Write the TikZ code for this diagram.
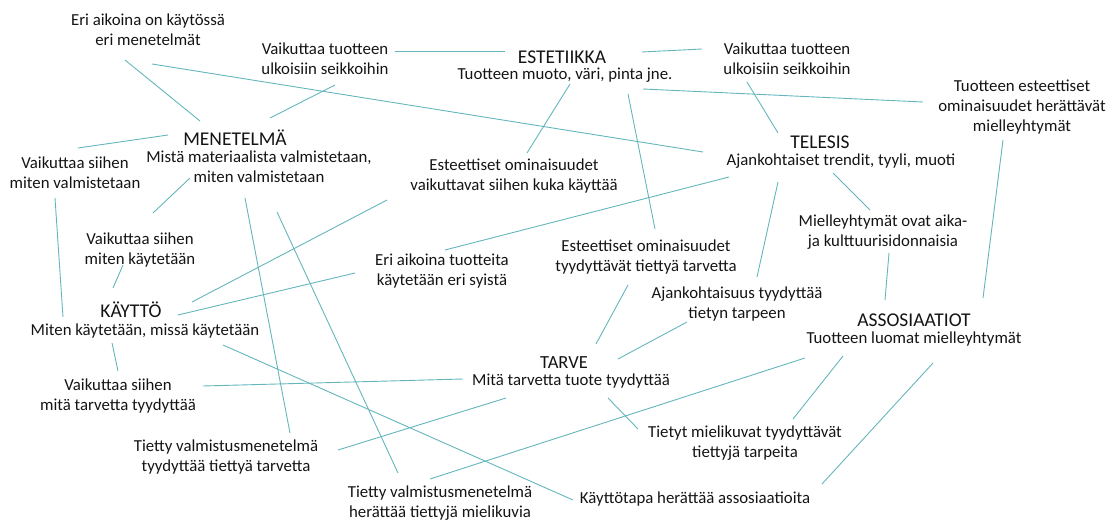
\documentclass[tikz,border=0pt]{standalone}
\usepackage{fontspec}
\setmainfont{Carlito}
\usetikzlibrary{calc}
\definecolor{ln}{RGB}{100,182,188}
\definecolor{txt}{RGB}{20,20,20}
\tikzset{
  lbl/.style={align=center, inner sep=0pt, text=txt, font=\fontsize{16.8}{20}\selectfont},
  hd/.style={inner sep=0pt, text=txt, font=\fontsize{19.5}{22}\selectfont},
  hdsmall/.style={inner sep=0pt, text=txt, font=\fontsize{18.5}{20}\selectfont},
  conn/.style={draw=ln, line width=0.9pt}
}
\begin{document}
\begin{tikzpicture}[x=1pt,y=-1pt]
\useasboundingbox (0,0) rectangle (1110,526);
% nodes
\node[lbl] (eri1) at (148,30) {Eri aikoina on käytössä\\eri menetelmät};
\node[lbl] (vtL) at (325,59) {Vaikuttaa tuotteen\\ulkoisiin seikkoihin};
\node[hd] (est) at (562,57) {ESTETIIKKA};
\node[lbl] (estS) at (565,75) {Tuotteen muoto, väri, pinta jne.};
\node[lbl] (vtR) at (787,59) {Vaikuttaa tuotteen\\ulkoisiin seikkoihin};
\node[lbl] (tes) at (1022,107) {Tuotteen esteettiset\\ominaisuudet herättävät\\mielleyhtymät};
\node[hd] (men) at (235,138) {MENETELMÄ};
\node[lbl] (menS) at (259,167) {Mistä materiaalista valmistetaan,\\miten valmistetaan};
\node[lbl] (vsv) at (75,173) {Vaikuttaa siihen\\miten valmistetaan};
\node[lbl] (eok) at (514,176) {Esteettiset ominaisuudet\\vaikuttavat siihen kuka käyttää};
\node[hd] (tel) at (820,142) {TELESIS};
\node[lbl] (telS) at (841,161) {Ajankohtaiset trendit, tyyli, muoti};
\node[lbl] (vsk) at (140,250) {Vaikuttaa siihen\\miten käytetään};
\node[hd] (kay) at (131,310) {KÄYTTÖ};
\node[lbl] (kayS) at (145,331) {Miten käytetään, missä käytetään};
\node[lbl] (eat) at (442,271) {Eri aikoina tuotteita\\käytetään eri syistä};
\node[lbl] (eot) at (646,257) {Esteettiset ominaisuudet\\tyydyttävät tiettyä tarvetta};
\node[lbl] (mok) at (883,232) {Mielleyhtymät ovat aika-\\ja kulttuurisidonnaisia};
\node[lbl] (ajt) at (737,304) {Ajankohtaisuus tyydyttää\\tietyn tarpeen};
\node[hd] (ass) at (914,320) {ASSOSIAATIOT};
\node[lbl] (assS) at (914,339) {Tuotteen luomat mielleyhtymät};
\node[hdsmall] (tar) at (564,363) {TARVE};
\node[lbl] (tarS) at (571,381) {Mitä tarvetta tuote tyydyttää};
\node[lbl] (vmt) at (118,396) {Vaikuttaa siihen\\mitä tarvetta tyydyttää};
\node[lbl] (tvt) at (226,457) {Tietty valmistusmenetelmä\\tyydyttää tiettyä tarvetta};
\node[lbl] (tmt) at (745,443) {Tietyt mielikuvat tyydyttävät\\tiettyjä tarpeita};
\node[lbl] (tvh) at (440,503) {Tietty valmistusmenetelmä\\herättää tiettyjä mielikuvia};
\node[lbl] (kha) at (695,499) {Käyttötapa herättää assosiaatioita};
% connectors
\draw[conn] ($(eri1)+(-23,30)$) -- ($(men)+(-35,-17)$);
\draw[conn] ($(eri1)+(4,34)$) -- ($(telS)+(-138,-9)$);
\draw[conn] ($(vtL)+(10,26)$) -- ($(men)+(35,-20)$);
\draw[conn] ($(vtL)+(70,-8)$) -- ($(est)+(-57,-6)$);
\draw[conn] ($(est)+(80,-5)$) -- ($(vtR)+(-85,-10)$);
\draw[conn] ($(estS)+(78,14)$) -- ($(tes)+(-99,-5)$);
\draw[conn] ($(vtR)+(-40,23)$) -- ($(tel)+(-42,-9)$);
\draw[conn] ($(estS)+(5,9)$) -- ($(eok)+(13,-23)$);
\draw[conn] ($(estS)+(63,19)$) -- ($(eot)+(9,-28)$);
\draw[conn] ($(tes)+(-19,33)$) -- ($(ass)+(69,-22)$);
\draw[conn] ($(men)+(-67,-3)$) -- ($(vsv)+(3,-25)$);
\draw[conn] ($(menS)+(-69,11)$) -- ($(vsk)+(13,-37)$);
\draw[conn] ($(vsv)+(-20,25)$) -- ($(kay)+(-68,7)$);
\draw[conn] ($(vsk)+(-17,15)$) -- ($(kay)+(-18,-22)$);
\draw[conn] ($(eok)+(-127,24)$) -- ($(kay)+(61,-8)$);
\draw[conn] ($(kay)+(47,5)$) -- ($(eat)+(-87,2)$);
\draw[conn] ($(telS)+(-112,16)$) -- ($(eat)+(3,-21)$);
\draw[conn] ($(menS)+(-14,31)$) -- ($(tvt)+(64,-24)$);
\draw[conn] ($(menS)+(18,45)$) -- ($(tvh)+(-42,-30)$);
\draw[conn] ($(kayS)+(-33,12)$) -- ($(vmt)+(0,-25)$);
\draw[conn] ($(kayS)+(78,14)$) -- ($(kha)+(-122,1)$);
\draw[conn] ($(tarS)+(-108,-2)$) -- ($(vmt)+(85,-10)$);
\draw[conn] ($(tarS)+(-65,17)$) -- ($(tvt)+(112,-7)$);
\draw[conn] ($(assS)+(-109,19)$) -- ($(tvh)+(-10,-24)$);
\draw[conn] ($(tarS)+(37,17)$) -- ($(tmt)+(-107,-14)$);
\draw[conn] ($(assS)+(-71,17)$) -- ($(tmt)+(48,-24)$);
\draw[conn] ($(assS)+(19,24)$) -- ($(kha)+(127,-15)$);
\draw[conn] ($(eot)+(-18,28)$) -- ($(tar)+(32,-19)$);
\draw[conn] ($(ajt)+(-50,18)$) -- ($(tar)+(54,-4)$);
\draw[conn] ($(telS)+(-63,21)$) -- ($(ajt)+(20,-27)$);
\draw[conn] ($(telS)+(-8,12)$) -- ($(mok)+(-13,-22)$);
\draw[conn] ($(mok)+(6,21)$) -- ($(ass)+(-29,-20)$);
\end{tikzpicture}
\end{document}
